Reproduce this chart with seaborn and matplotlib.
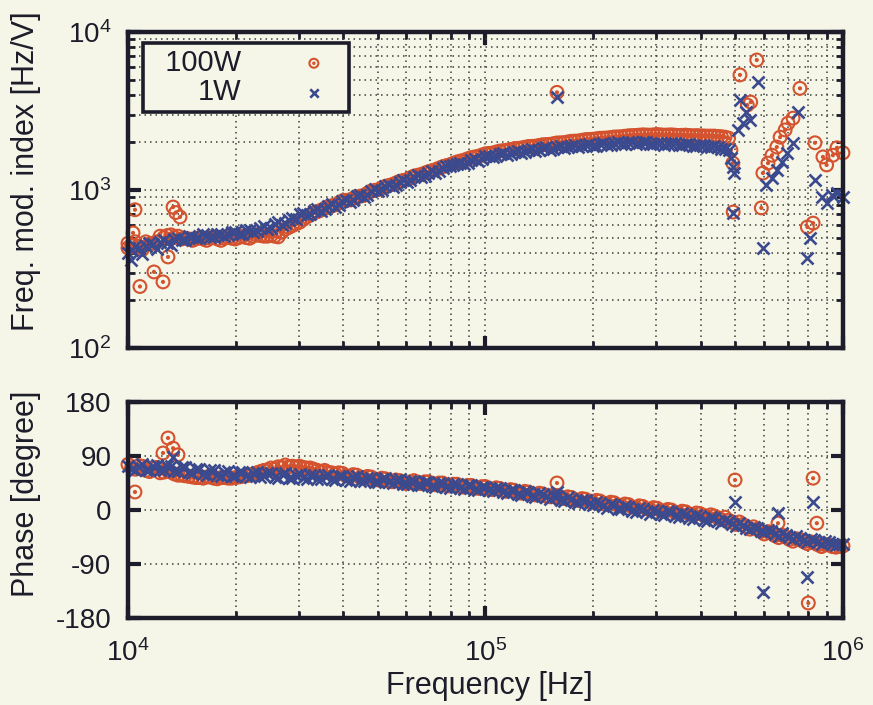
import numpy as np
import pandas as pd
import matplotlib
matplotlib.use("Agg")
import matplotlib.pyplot as plt
import seaborn as sns
from matplotlib.path import Path
from matplotlib.ticker import LogFormatterMathtext, LogLocator, NullFormatter, FixedLocator

# frequency points of the dense sweep [Hz]
freq = [10000, 10470, 10960, 11480, 12020, 12590, 13180, 13800, 14450, 15140,
        15850, 16600, 17380, 18200, 19050, 19950, 20890, 21880, 22910, 23990,
        25120, 26300, 27540, 28840, 30200, 31620, 33110, 34670, 36310, 38020,
        39810, 41690, 43650, 45710, 47860, 50120, 52480, 54950, 57540, 60260,
        63100, 66070, 69180, 72440, 75860, 79430, 83180, 87100, 91200, 95500,
        100000, 104700, 109600, 114800, 120200, 125900, 131800, 138000, 144500, 151400,
        158500, 166000, 173800, 182000, 190500, 199500, 208900, 218800, 229100, 239900,
        251200, 263000, 275400, 288400, 302000, 316200, 331100, 346700, 363100, 380200,
        398100, 416900, 436500, 457100, 478600, 501200, 524800, 549500, 575400, 602600,
        631000, 660700, 691800, 724400, 758600, 794300, 831800, 871000, 912000, 955000,
        1000000]
# the in-between sweep points
freq_mid = [10230, 10720, 11220, 11750, 12300, 12880, 13490, 14130, 14790, 15490,
            16220, 16980, 17780, 18620, 19500, 20420, 21380, 22390, 23440, 24550,
            25700, 26920, 28180, 29510, 30900, 32360, 33880, 35480, 37150, 38900,
            40740, 42660, 44670, 46770, 48980, 51290, 53700, 56230, 58880, 61660,
            64570, 67610, 70790, 74130, 77620, 81280, 85110, 89130, 93330, 97720,
            102300, 107200, 112200, 117500, 123000, 128800, 134900, 141300, 147900, 154900,
            162200, 169800, 177800, 186200, 195000, 204200, 213800, 223900, 234400, 245500,
            257000, 269200, 281800, 295100, 309000, 323600, 338800, 354800, 371500, 389000,
            407400, 426600, 446700, 467700, 489800, 512900, 537000, 562300, 588800, 616600,
            645700, 676100, 707900, 741300, 776200, 812800, 851100, 891300, 933300, 977200]

# magnitude [Hz/V], smooth band part only
mag_100w = [430, 470, 420, 455, 470, 500, 520, 510, 495, 480,
            500, 480, 505, 480, 500, 490, 510, 495, 520, 510,
            515, 505, 565, 595, 625, 675, 715, 745, 785, 805,
            855, 865, 905, 925, 985, 1005, 1055, 1085, 1135, 1165,
            1225, 1255, 1305, 1345, 1405, 1445, 1505, 1545, 1605, 1635,
            1695, 1715, 1765, 1785, 1825, 1845, 1885, 1895, 1935, 1945,
            1985, 1995, 2035, 2045, 2085, 2095, 2125, 2135, 2165, 2175,
            2205, 2215, 2235, 2225, 2245, 2225, 2235, 2215, 2225, 2205,
            2205, 2195, 2195, 2175, 2130]
mag_100w_mid = [450, 440, 470, 460, 510, 515, 500, 490, 490, 490,
                490, 495, 490, 495, 495, 500, 500, 510, 515, 510,
                510, 540, 580, 610, 650, 695, 730, 765, 795, 830,
                860, 885, 915, 955, 995, 1030, 1070, 1110, 1150, 1195,
                1240, 1280, 1325, 1375, 1425, 1475, 1525, 1575, 1620, 1665,
                1705, 1740, 1775, 1805, 1835, 1865, 1890, 1915, 1940, 1965,
                1990, 2015, 2040, 2065, 2090, 2110, 2130, 2150, 2170, 2190,
                2210, 2225, 2230, 2235, 2235, 2230, 2225, 2220, 2215, 2210,
                2200, 2195, 2185, 2160]
mag_1w = [400, 445, 395, 460, 425, 480, 450, 500, 485, 505,
          500, 520, 505, 530, 520, 545, 530, 560, 550, 590,
          575, 625, 615, 665, 700, 690, 735, 735, 790, 785,
          850, 845, 910, 905, 980, 985, 1055, 1050, 1125, 1130,
          1215, 1205, 1290, 1285, 1380, 1420, 1465, 1460, 1550, 1530,
          1630, 1610, 1690, 1660, 1750, 1720, 1800, 1760, 1840, 1800,
          1870, 1850, 1900, 1870, 1930, 1900, 1960, 1920, 1990, 1950,
          2000, 1960, 2000, 1950, 1990, 1940, 1970, 1920, 1950, 1890,
          1920, 1870, 1900, 1830, 1780]
mag_1w_mid = [420, 430, 440, 455, 470, 465, 490, 480, 510, 495,
              525, 505, 530, 510, 540, 525, 555, 540, 575, 565,
              610, 600, 650, 660, 720, 700, 760, 755, 810, 800,
              870, 865, 935, 930, 1010, 1000, 1080, 1070, 1160, 1150,
              1240, 1235, 1320, 1310, 1410, 1430, 1490, 1480, 1580, 1560,
              1650, 1630, 1710, 1690, 1770, 1740, 1820, 1790, 1860, 1830,
              1890, 1860, 1920, 1890, 1950, 1910, 1980, 1940, 2000, 1960,
              2010, 1970, 2000, 1960, 1990, 1950, 1970, 1930, 1950, 1900,
              1920, 1880, 1880, 1820]

# scattered magnitude points (outliers, resonances)
f_mag_100w_ext = [10000, 10330, 10460, 10800, 11820, 12530, 12940, 13370, 13600, 13980,
                  158500, 486000, 492000, 493000, 515000, 540000, 552000, 574000,
                  591000, 597000, 617000, 633000, 653000, 667000, 689000, 702000, 725000,
                  758000, 795000, 825000, 835000, 879000, 900000, 937000, 962000, 1000000]
mag_100w_ext = [460, 535, 750, 245, 303, 262, 377, 780, 720, 675,
                4150, 1790, 1480, 725, 5350, 3450, 3600, 6650,
                770, 1280, 1480, 1660, 1870, 2160, 2400, 2650, 2850,
                4400, 583, 617, 1990, 1620, 1440, 1660, 1850, 1720]
f_mag_1w_ext = [10200, 158500, 486000, 492000, 496000, 494000, 510000, 515000, 525000,
                537000, 548000, 578000, 597000, 610000, 633000, 653000, 675000, 698000,
                725000, 750000, 795000, 810000, 835000, 875000, 900000, 930000, 962000, 1000000]
mag_1w_ext = [360, 3900, 1590, 1400, 1280, 715, 2400, 3720, 2650,
              3110, 2770, 4820, 430, 1075, 1190, 1340, 1500, 1710,
              1980, 3100, 370, 500, 1160, 905, 830, 930, 955, 900]

# phase [degree], full sweep
phase_100w = [76, 68, 73, 64, 71, 63, 63, 58, 57, 55,
              54, 55, 53, 54, 53, 54, 56, 58, 62, 66,
              70, 72, 75, 73, 73, 70, 68, 64, 63, 60,
              61, 56, 58, 53, 55, 50, 52, 47, 49, 44,
              49, 44, 47, 42, 45, 40, 43, 38, 41, 36,
              39, 34, 36, 31, 33, 28, 30, 25, 27, 22,
              24, 19, 21, 16, 18, 13, 15, 10, 12, 7,
              9, 4, 6, 1, 3, -2, 0, -5, -3, -8,
              -6, -11, -10, -16, -17, -24, -24, -32, -32, -40,
              -38, -46, -45, -52, -49, -56, -55, -61, -58, -62, -60]
phase_100w_mid = [70, 74, 66, 70, 62, 66, 60, 58, 56, 54,
                  53, 55, 52, 54, 53, 55, 57, 60, 64, 67,
                  68, 71, 72, 72, 71, 70, 66, 66, 62, 62,
                  57, 59, 54, 56, 51, 53, 48, 50, 45, 47,
                  45, 47, 43, 45, 41, 43, 39, 41, 37, 39,
                  35, 37, 32, 34, 29, 31, 26, 28, 23, 25,
                  20, 22, 17, 19, 14, 16, 11, 13, 8, 10,
                  5, 7, 2, 4, -1, 1, -4, -2, -7, -5,
                  -9, -8, -13, -12, -20, -20, -28, -28, -36, -36,
                  -43, -42, -49, -48, -53, -53, -58, -58, -61, -61]
phase_1w = [74, 66, 76, 67, 75, 66, 74, 65, 71, 62,
            68, 58, 66, 57, 65, 56, 64, 55, 63, 56,
            62, 54, 61, 53, 60, 52, 59, 51, 58, 50,
            57, 49, 56, 48, 54, 46, 53, 45, 51, 43,
            49, 41, 47, 39, 45, 37, 43, 35, 41, 34,
            39, 31, 36, 28, 33, 25, 30, 22, 27, 19,
            23, 15, 19, 11, 16, 8, 12, 4, 9, 1,
            5, -3, 2, -6, -1, -9, -4, -12, -7, -15,
            -10, -18, -13, -21, -19, -27, -25, -32, -30, -37,
            -35, -43, -41, -48, -46, -53, -50, -57, -53, -59, -57]
phase_1w_mid = [68, 72, 67, 74, 66, 73, 65, 72, 64, 69,
                60, 66, 58, 64, 57, 63, 56, 62, 55, 61,
                55, 60, 54, 59, 53, 58, 52, 57, 51, 56,
                50, 55, 49, 53, 47, 52, 46, 50, 44, 48,
                42, 47, 40, 45, 38, 43, 36, 41, 35, 39,
                33, 37, 30, 34, 27, 31, 24, 28, 21, 25,
                17, 21, 13, 17, 10, 14, 6, 10, 2, 7,
                -1, 3, -4, 0, -7, -2, -10, -5, -13, -8,
                -16, -11, -19, -16, -24, -22, -30, -28, -35, -33,
                -40, -38, -45, -43, -50, -48, -54, -52, -57, -56]

f_phase_100w_ext = [10460, 12530, 12940, 13370, 13800, 158500, 499000, 658000, 800000, 825000, 845000]
phase_100w_ext = [30, 95, 120, 103, 92, 45, 50, -22, -155, 53, -22]
f_phase_1w_ext = [13370, 158500, 499000, 597000, 658000, 795000, 825000]
phase_1w_ext = [88, 30, 13, -137, -5, -112, 13]

bg = "#f6f6e8"
red = "#d4522e"
blue = "#3b4a8e"
ink = "#1c1c2a"
grid_c = "#3c3f3c"

sns.set_style("ticks")
plt.rcParams["font.family"] = ["Liberation Sans", "DejaVu Sans"]
plt.rcParams["mathtext.fontset"] = "custom"
plt.rcParams["mathtext.rm"] = "Liberation Sans"
plt.rcParams["axes.unicode_minus"] = False
plt.rcParams["text.color"] = ink
plt.rcParams["axes.labelcolor"] = ink
plt.rcParams["xtick.color"] = ink
plt.rcParams["ytick.color"] = ink

# circle with a dot in the middle
circ_dot = Path.make_compound_path(Path.unit_circle(), Path.circle((0, 0), 0.16))

fig = plt.figure(figsize=(8.73, 7.05), dpi=100, facecolor=bg)
ax1 = fig.add_axes([0.1466, 0.5064, 0.819, 0.4482], facecolor=bg)
ax2 = fig.add_axes([0.1466, 0.1234, 0.819, 0.3064], facecolor=bg)

n_band = len(mag_1w)
n_mid = len(mag_1w_mid)
top_red = pd.DataFrame({"f": freq[:n_band] + freq_mid[:n_mid] + f_mag_100w_ext,
                        "v": mag_100w + mag_100w_mid + mag_100w_ext})
top_blue = pd.DataFrame({"f": freq[:n_band] + freq_mid[:n_mid] + f_mag_1w_ext,
                         "v": mag_1w + mag_1w_mid + mag_1w_ext})
bot_red = pd.DataFrame({"f": freq + freq_mid + f_phase_100w_ext,
                        "v": phase_100w + phase_100w_mid + phase_100w_ext})
bot_blue = pd.DataFrame({"f": freq + freq_mid + f_phase_1w_ext,
                         "v": phase_1w + phase_1w_mid + phase_1w_ext})

circ_kw = dict(marker=circ_dot, s=85, color=red, facecolor="none", edgecolor=red,
               linewidth=1.5, clip_on=False)
x_kw = dict(marker="x", s=75, color=blue, linewidth=1.9, clip_on=False)

sns.scatterplot(data=top_red, x="f", y="v", ax=ax1, label="  100W", **circ_kw)
sns.scatterplot(data=top_blue, x="f", y="v", ax=ax1, label="1W", **x_kw)
sns.scatterplot(data=bot_red, x="f", y="v", ax=ax2, **circ_kw)
sns.scatterplot(data=bot_blue, x="f", y="v", ax=ax2, **x_kw)

for ax in (ax1, ax2):
    ax.set_xscale("log")
    ax.set_xlim(1e4, 1e6)
    ax.xaxis.set_major_locator(LogLocator(base=10))
    ax.xaxis.set_minor_locator(LogLocator(base=10, subs=np.arange(2, 10)))
    ax.xaxis.set_minor_formatter(NullFormatter())
    ax.set_axisbelow(True)
    ax.grid(True, which="both", axis="x", linestyle=(0, (1, 2.6)), linewidth=1.1, color=grid_c)
    ax.tick_params(which="both", direction="in", top=True, right=True, labelsize=20)
    ax.tick_params(which="major", length=9, width=3, pad=12)
    ax.tick_params(which="minor", length=5, width=2)
    ax.tick_params(axis="x", which="major", pad=15)
    for sp in ax.spines.values():
        sp.set_linewidth(3.2)
        sp.set_color(ink)
    ax.set_xlabel("")
    ax.set_ylabel("")

ax1.set_yscale("log")
ax1.set_ylim(1e2, 1e4)
ax1.yaxis.set_major_locator(LogLocator(base=10))
ax1.yaxis.set_minor_locator(LogLocator(base=10, subs=np.arange(2, 10)))
ax1.yaxis.set_major_formatter(LogFormatterMathtext())
ax1.yaxis.set_minor_formatter(NullFormatter())
ax1.grid(True, which="both", axis="y", linestyle=(0, (1, 2.6)), linewidth=1.1, color=grid_c)
ax1.tick_params(axis="x", labelbottom=False)
ax1.set_ylabel("Freq. mod. index [Hz/V]", fontsize=22)
ax1.yaxis.set_label_coords(-0.122, 0.56)

ax2.set_ylim(-180, 180)
ax2.yaxis.set_major_locator(FixedLocator([-180, -90, 0, 90, 180]))
ax2.grid(True, which="major", axis="y", linestyle=(0, (1, 2.6)), linewidth=1.1, color=grid_c)
ax2.xaxis.set_major_formatter(LogFormatterMathtext())
ax2.set_ylabel("Phase [degree]", fontsize=22)
ax2.yaxis.set_label_coords(-0.122, 0.574)
ax2.set_xlabel("Frequency [Hz]", fontsize=22)
ax2.xaxis.set_label_coords(0.506, -0.245)
if ax2.get_legend():
    ax2.get_legend().remove()

leg = ax1.legend(loc="upper left", bbox_to_anchor=(0.021, 0.965), borderaxespad=0,
                 markerfirst=False, fontsize=21, markerscale=0.7, frameon=True,
                 fancybox=False, edgecolor=ink, facecolor=bg, framealpha=1,
                 handletextpad=1.5, handlelength=2.0, borderpad=0.2, labelspacing=0.05)
leg.get_frame().set_linewidth(2.6)

fig.savefig("out.png", dpi=100, facecolor=bg)
